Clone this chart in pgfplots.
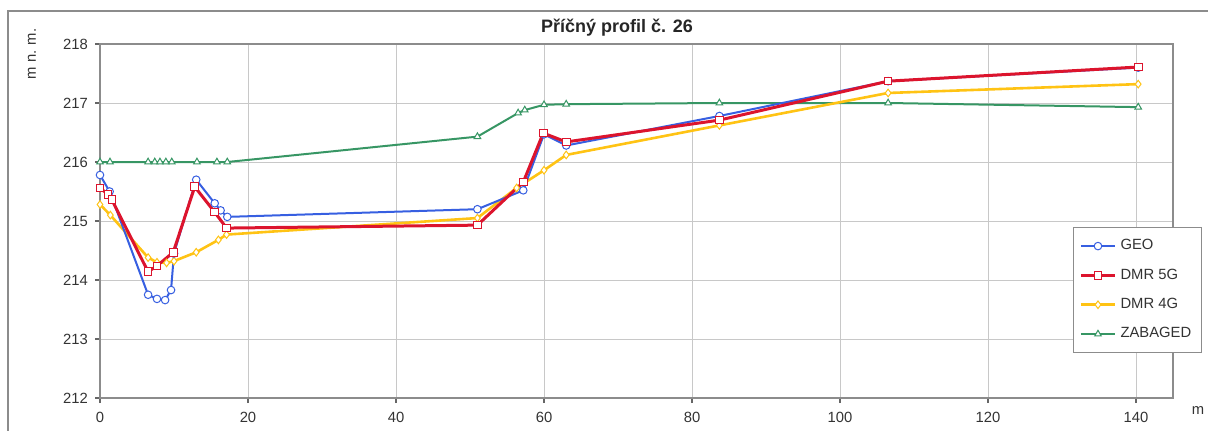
\documentclass[border=0pt]{standalone}
\usepackage{fontspec}
\setmainfont{Liberation Sans}
\usepackage{pgfplots}
\pgfplotsset{compat=1.18}
\definecolor{cgeo}{RGB}{55,95,225}
\definecolor{cdmr5}{RGB}{220,20,45}
\definecolor{cdmr4}{RGB}{255,195,20}
\definecolor{czab}{RGB}{55,150,100}
\definecolor{cgrid}{RGB}{200,200,200}
\definecolor{cframe}{RGB}{140,140,140}
\begin{document}
\begin{tikzpicture}[x=1pt,y=1pt]
\useasboundingbox (0,0) rectangle (604,215);
\draw[cframe, line width=0.7pt] (4,-5) rectangle (612,209.5);
\begin{axis}[
  at={(50pt,16pt)}, anchor=south west,
  width=536.5pt, height=177pt, scale only axis,
  xmin=0, xmax=145, ymin=212, ymax=218,
  xtick={0,20,40,60,80,100,120,140},
  ytick={212,213,214,215,216,217,218},
  grid=major,
  major grid style={cgrid, line width=0.5pt},
  axis line style={cframe, line width=0.6pt},
  tick style={black!60, line width=0.6pt},
  tick align=outside, major tick length=2.5pt,
  xtick pos=bottom, ytick pos=left,
  ticklabel style={font=\fontsize{7.4}{8}\selectfont, text=black!80},
  xticklabel style={yshift=-1pt},
  /pgf/number format/assume math mode=true,
  /pgf/number format/1000 sep={},
  legend style={at={(0.9068,0.483)}, anchor=north west, draw=cframe,
    font=\fontsize{7.4}{8}\selectfont, text=black!80,
    row sep=4pt, inner xsep=3pt, inner ysep=4pt, cells={anchor=west}},
  legend cell align=left,
  every axis plot/.append style={mark size=1.9pt},
]
\addplot[czab, line width=1pt, mark=triangle*, mark options={fill=white, draw=czab, line width=0.5pt}, forget plot] coordinates {
(0,216.0) (1.35,216.0) (6.5,216.0) (7.4,216.0) (8.1,216.0) (8.9,216.0) (9.7,216.0) (13.1,216.0) (15.8,216.0) (17.2,216.0)
(51.0,216.43) (56.5,216.83) (57.4,216.88) (60.0,216.97) (63.0,216.98) (83.7,217.0) (106.5,217.0) (140.3,216.93)};
\addplot[cdmr4, line width=1.3pt, mark=diamond*, mark options={fill=white, draw=cdmr4, line width=0.5pt}, forget plot] coordinates {
(0,215.28) (1.4,215.1) (6.5,214.38) (7.7,214.30) (9.0,214.29) (10.0,214.32) (13.0,214.47) (16.0,214.68) (17.1,214.77)
(51.0,215.05) (56.3,215.56) (60.0,215.86) (63.0,216.12) (83.7,216.62) (106.5,217.17) (140.3,217.32)};
\addplot[cgeo, line width=1pt, mark=*, mark options={fill=white, draw=cgeo, line width=0.5pt}, forget plot] coordinates {
(0,215.78) (1.3,215.5) (6.5,213.75) (7.7,213.68) (8.8,213.66) (9.6,213.83) (10.0,214.45) (13.0,215.70) (15.5,215.30) (16.3,215.18) (17.2,215.07)
(51.0,215.20) (57.2,215.52) (60.0,216.47) (63.0,216.28) (83.7,216.78) (106.5,217.37) (140.3,217.60)};
\addplot[cdmr5, line width=1.5pt, mark=square*, mark options={fill=white, draw=cdmr5, line width=0.5pt}, forget plot] coordinates {
(0,215.56) (1.1,215.45) (1.6,215.36) (6.5,214.14) (7.7,214.24) (9.9,214.47) (12.8,215.58) (15.5,215.15) (17.1,214.88)
(51.0,214.93) (57.2,215.66) (59.9,216.49) (63.0,216.34) (83.7,216.71) (106.5,217.37) (140.3,217.61)};
\addlegendimage{cgeo, line width=1pt, mark=*, mark options={fill=white, draw=cgeo, line width=0.5pt}}
\addlegendentry{GEO}
\addlegendimage{cdmr5, line width=1.5pt, mark=square*, mark options={fill=white, draw=cdmr5, line width=0.5pt}}
\addlegendentry{DMR 5G}
\addlegendimage{cdmr4, line width=1.3pt, mark=diamond*, mark options={fill=white, draw=cdmr4, line width=0.5pt}}
\addlegendentry{DMR 4G}
\addlegendimage{czab, line width=1pt, mark=triangle*, mark options={fill=white, draw=czab, line width=0.5pt}}
\addlegendentry{ZABAGED}
\end{axis}
\node[font=\bfseries\fontsize{9}{10}\selectfont, text=black!85] at (308.5,201) {Příčný profil č. 26};
\node[font=\fontsize{7.4}{8}\selectfont, text=black!80, rotate=90] at (16,188) {m n. m.};
\node[font=\fontsize{7.4}{8}\selectfont, text=black!80] at (599,9.5) {m};
\end{tikzpicture}
\end{document}
